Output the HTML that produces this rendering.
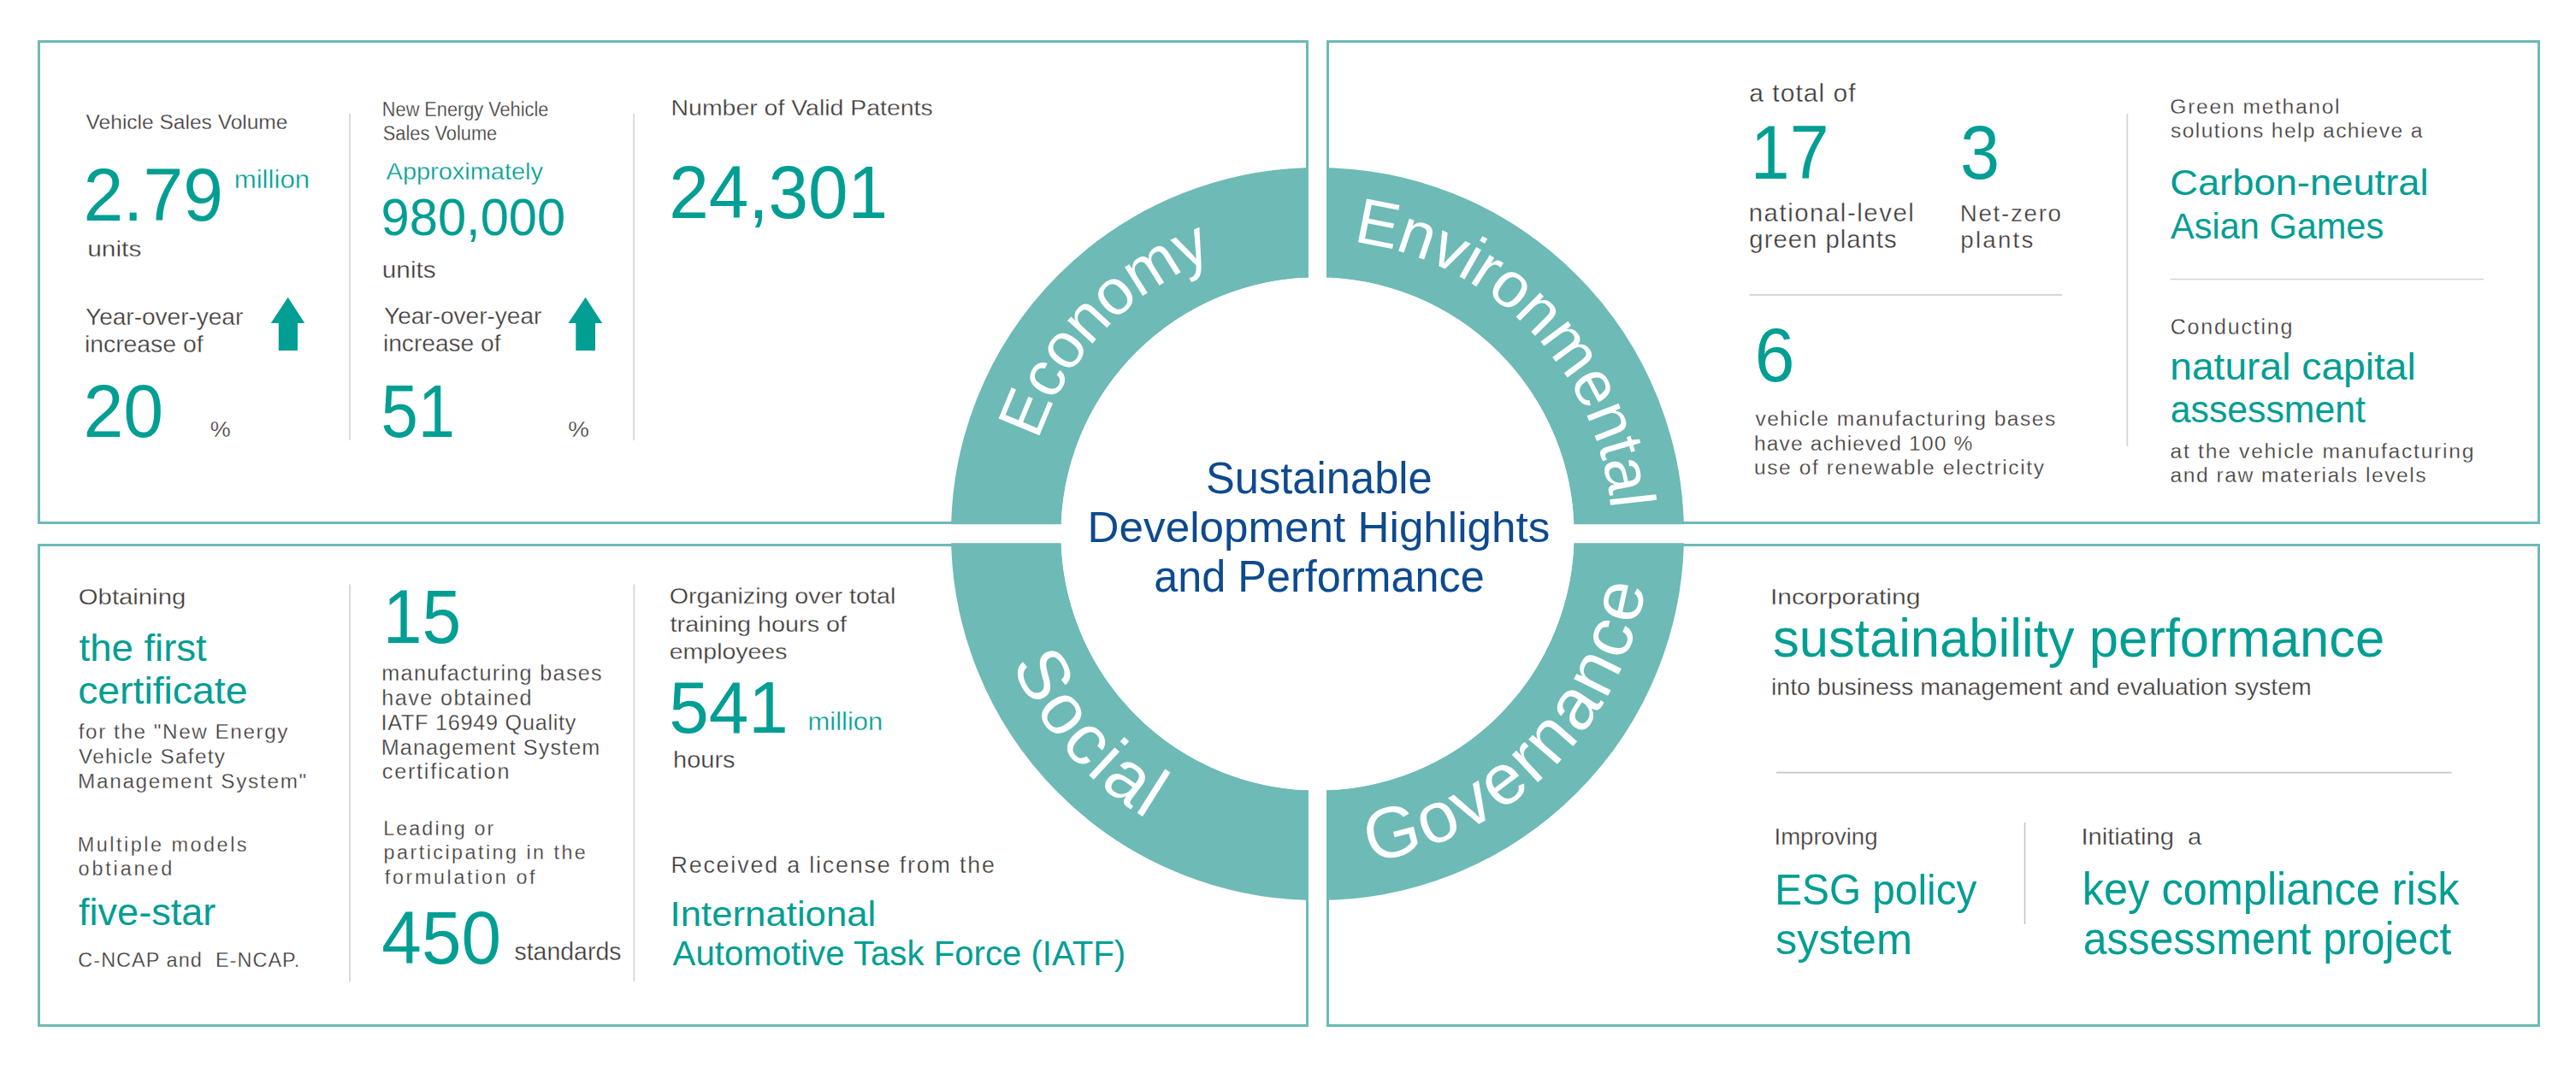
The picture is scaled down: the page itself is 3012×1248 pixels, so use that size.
<!DOCTYPE html>
<html><head><meta charset="utf-8"><style>
html,body{margin:0;padding:0;background:#fff;width:3012px;height:1248px;overflow:hidden}
svg{display:block}
text{font-family:"Liberation Sans", sans-serif;white-space:pre}
</style></head><body>
<svg width="3012" height="1248" viewBox="0 0 3012 1248">
<defs><path id="pE" d="M1302.06 873.15 A344.50 344.50 0 0 1 1778.94 375.85"/>
<path id="pV" d="M1300.50 375.97 A345.50 345.50 0 0 1 1780.50 873.03"/>
<path id="pS" d="M1283.10 331.51 A390.00 390.00 0 0 0 1797.90 917.49"/>
<path id="pG" d="M1266.18 901.71 A390.00 390.00 0 0 0 1814.82 347.29"/></defs>
<rect x="45.5" y="48.5" width="1483.0" height="563.0" fill="none" stroke="#6dbab6" stroke-width="3"/>
<rect x="1552.5" y="48.5" width="1416.0" height="563.0" fill="none" stroke="#6dbab6" stroke-width="3"/>
<rect x="45.5" y="637.5" width="1483.0" height="562.0" fill="none" stroke="#6dbab6" stroke-width="3"/>
<rect x="1552.5" y="637.5" width="1416.0" height="562.0" fill="none" stroke="#6dbab6" stroke-width="3"/>
<rect x="408.10" y="133.0" width="2.00" height="382.0" fill="#dadada"/>
<rect x="740.30" y="133.0" width="1.80" height="382.0" fill="#d6d6d6"/>
<rect x="2486.40" y="133.0" width="1.80" height="389.0" fill="#d6d6d8"/>
<rect x="2045.6" y="343.90" width="365.4" height="2.00" fill="#d6d6d8"/>
<rect x="2537.5" y="325.80" width="366.5" height="1.60" fill="#d6d6d8"/>
<rect x="408.00" y="683.5" width="2.00" height="464.5" fill="#dadada"/>
<rect x="740.50" y="683.5" width="1.80" height="464.5" fill="#d6d6d6"/>
<rect x="2077.0" y="902.75" width="789.5" height="1.70" fill="#c4c4c4"/>
<rect x="2366.75" y="962.0" width="1.50" height="119.0" fill="#c4c4c4"/>
<path d="M336.7 347.8 L356.3 378 L348.0 378 L348.0 410 L325.8 410 L325.8 378 L316.7 378 Z" fill="#009e93"/>
<path d="M684.6 347.8 L704.2 378 L696.0 378 L696.0 410 L673.3 410 L673.3 378 L664.4 378 Z" fill="#009e93"/>
<circle cx="1540.5" cy="624.5" r="364.25" fill="none" stroke="#6dbab6" stroke-width="128.50"/>
<circle cx="1540.5" cy="624.5" r="300.00" fill="#fff"/>
<rect x="1529.9" y="194.0" width="21.1" height="861.0" fill="#fff"/>
<rect x="1110.0" y="613.2" width="861.0" height="22" fill="#fff"/>
<text font-size="75.0" fill="#fff" letter-spacing="-1.20"><textPath href="#pE" startOffset="50%" text-anchor="middle">Economy</textPath></text>
<text font-size="75.0" fill="#fff" letter-spacing="-0.80"><textPath href="#pV" startOffset="50%" text-anchor="middle">Environmental</textPath></text>
<text font-size="84.0" fill="#fff" letter-spacing="3.10"><textPath href="#pS" startOffset="50%" text-anchor="middle">Social</textPath></text>
<text font-size="84.0" fill="#fff" letter-spacing="3.20"><textPath href="#pG" startOffset="50%" text-anchor="middle">Governance</textPath></text>
<text transform="translate(100.60 151.00) scale(1.0537 1)" font-size="23.29" fill="#3e3a39" stroke="#fff" stroke-width="0.28">Vehicle Sales Volume</text>
<text transform="translate(97.40 257.70) scale(0.9607 1)" font-size="87.43" fill="#009e93">2.79</text>
<text transform="translate(273.63 220.00) scale(1.0859 1)" font-size="28.77" fill="#009e93" stroke="#fff" stroke-width="0.35">million</text>
<text transform="translate(102.21 300.00) scale(1.1741 1)" font-size="25.48" fill="#3e3a39" stroke="#fff" stroke-width="0.31">units</text>
<text transform="translate(100.04 379.80) scale(1.0286 1)" font-size="27.25" fill="#3e3a39" stroke="#fff" stroke-width="0.33">Year-over-year</text>
<text transform="translate(98.90 411.80) scale(1.0410 1)" font-size="27.25" fill="#3e3a39" stroke="#fff" stroke-width="0.33">increase of</text>
<text transform="translate(97.39 510.70) scale(0.9630 1)" font-size="87.43" fill="#009e93">20</text>
<text transform="translate(245.79 511.00) scale(1.0495 1)" font-size="25.71" fill="#3e3a39" stroke="#fff" stroke-width="0.31">%</text>
<text transform="translate(446.86 135.50) scale(0.9394 1)" font-size="23.15" fill="#3e3a39" stroke="#fff" stroke-width="0.28">New Energy Vehicle</text>
<text transform="translate(447.73 164.30) scale(0.9435 1)" font-size="23.15" fill="#3e3a39" stroke="#fff" stroke-width="0.28">Sales Volume</text>
<text transform="translate(451.60 210.30) scale(1.0781 1)" font-size="26.85" fill="#009e93" stroke="#fff" stroke-width="0.32">Approximately</text>
<text transform="translate(445.61 275.00) scale(0.9707 1)" font-size="61.43" fill="#009e93">980,000</text>
<text transform="translate(446.81 324.70) scale(1.0498 1)" font-size="28.36" fill="#3e3a39" stroke="#fff" stroke-width="0.34">units</text>
<text transform="translate(449.04 379.40) scale(1.0396 1)" font-size="26.96" fill="#3e3a39" stroke="#fff" stroke-width="0.32">Year-over-year</text>
<text transform="translate(447.91 411.30) scale(1.0445 1)" font-size="26.96" fill="#3e3a39" stroke="#fff" stroke-width="0.32">increase of</text>
<text transform="translate(445.48 510.70) scale(0.8862 1)" font-size="87.97" fill="#009e93">51</text>
<text transform="translate(664.17 511.00) scale(1.0776 1)" font-size="25.71" fill="#3e3a39" stroke="#fff" stroke-width="0.31">%</text>
<text transform="translate(784.52 135.40) scale(1.1169 1)" font-size="25.48" fill="#3e3a39" stroke="#fff" stroke-width="0.31">Number of Valid Patents</text>
<text transform="translate(782.22 255.00) scale(0.9599 1)" font-size="87.14" fill="#009e93">24,301</text>
<text x="2045.30" y="119.40" font-size="30.00" letter-spacing="1.017" fill="#3e3a39" stroke="#fff" stroke-width="0.36">a total of</text>
<text transform="translate(2046.83 209.30) scale(0.9335 1)" font-size="88.29" fill="#009e93">17</text>
<text transform="translate(2291.91 209.30) scale(0.9385 1)" font-size="88.29" fill="#009e93">3</text>
<text x="2044.74" y="258.80" font-size="29.32" letter-spacing="1.565" fill="#3e3a39" stroke="#fff" stroke-width="0.35">national-level</text>
<text x="2045.33" y="290.30" font-size="29.32" letter-spacing="1.000" fill="#3e3a39" stroke="#fff" stroke-width="0.35">green plants</text>
<text x="2291.79" y="258.80" font-size="27.68" letter-spacing="1.725" fill="#3e3a39" stroke="#fff" stroke-width="0.33">Net-zero</text>
<text x="2292.34" y="290.30" font-size="27.68" letter-spacing="2.225" fill="#3e3a39" stroke="#fff" stroke-width="0.33">plants</text>
<text transform="translate(2051.80 445.50) scale(0.9535 1)" font-size="88.14" fill="#009e93">6</text>
<text x="2052.40" y="497.90" font-size="24.52" letter-spacing="1.545" fill="#3e3a39" stroke="#fff" stroke-width="0.29">vehicle manufacturing bases</text>
<text x="2050.93" y="526.60" font-size="24.52" letter-spacing="1.162" fill="#3e3a39" stroke="#fff" stroke-width="0.29">have achieved 100 %</text>
<text x="2050.93" y="555.00" font-size="24.52" letter-spacing="1.604" fill="#3e3a39" stroke="#fff" stroke-width="0.29">use of renewable electricity</text>
<text x="2537.37" y="133.30" font-size="24.66" letter-spacing="1.642" fill="#3e3a39" stroke="#fff" stroke-width="0.30">Green methanol</text>
<text x="2538.11" y="161.40" font-size="24.66" letter-spacing="1.357" fill="#3e3a39" stroke="#fff" stroke-width="0.30">solutions help achieve a</text>
<text transform="translate(2537.13 228.20) scale(1.0476 1)" font-size="43.29" fill="#009e93">Carbon-neutral</text>
<text transform="translate(2538.00 278.60) scale(0.9593 1)" font-size="43.29" fill="#009e93">Asian Games</text>
<text x="2537.75" y="391.20" font-size="25.07" letter-spacing="1.760" fill="#3e3a39" stroke="#fff" stroke-width="0.30">Conducting</text>
<text transform="translate(2537.23 443.60) scale(1.0251 1)" font-size="45.07" fill="#009e93">natural capital</text>
<text transform="translate(2537.79 494.00) scale(0.9487 1)" font-size="45.07" fill="#009e93">assessment</text>
<text x="2537.51" y="536.00" font-size="24.66" letter-spacing="1.721" fill="#3e3a39" stroke="#fff" stroke-width="0.30">at the vehicle manufacturing</text>
<text x="2537.51" y="564.00" font-size="24.66" letter-spacing="1.502" fill="#3e3a39" stroke="#fff" stroke-width="0.30">and raw materials levels</text>
<text transform="translate(91.83 706.70) scale(1.1198 1)" font-size="26.16" fill="#3e3a39" stroke="#fff" stroke-width="0.31">Obtaining</text>
<text transform="translate(92.54 772.80) scale(1.0131 1)" font-size="44.93" fill="#009e93">the first</text>
<text transform="translate(91.15 822.70) scale(1.0315 1)" font-size="44.93" fill="#009e93">certificate</text>
<text x="91.76" y="864.00" font-size="24.25" letter-spacing="1.578" fill="#3e3a39" stroke="#fff" stroke-width="0.29">for the &quot;New Energy</text>
<text x="92.00" y="893.00" font-size="24.25" letter-spacing="1.326" fill="#3e3a39" stroke="#fff" stroke-width="0.29">Vehicle Safety</text>
<text x="91.06" y="922.00" font-size="24.25" letter-spacing="1.728" fill="#3e3a39" stroke="#fff" stroke-width="0.29">Management System&quot;</text>
<text x="90.63" y="995.80" font-size="23.42" letter-spacing="2.524" fill="#3e3a39" stroke="#fff" stroke-width="0.28">Multiple models</text>
<text x="91.56" y="1024.30" font-size="23.42" letter-spacing="2.839" fill="#3e3a39" stroke="#fff" stroke-width="0.28">obtianed</text>
<text transform="translate(92.05 1082.00) scale(0.9968 1)" font-size="45.21" fill="#009e93">five-star</text>
<text x="91.33" y="1130.70" font-size="23.42" letter-spacing="1.063" fill="#3e3a39" stroke="#fff" stroke-width="0.28">C-NCAP and  E-NCAP.</text>
<text transform="translate(447.85 752.40) scale(0.9237 1)" font-size="88.99" fill="#009e93">15</text>
<text x="446.29" y="796.40" font-size="25.21" letter-spacing="1.304" fill="#3e3a39" stroke="#fff" stroke-width="0.30">manufacturing bases</text>
<text x="446.29" y="824.80" font-size="25.21" letter-spacing="1.413" fill="#3e3a39" stroke="#fff" stroke-width="0.30">have obtained</text>
<text x="445.53" y="853.60" font-size="25.21" letter-spacing="0.746" fill="#3e3a39" stroke="#fff" stroke-width="0.30">IATF 16949 Quality</text>
<text x="445.78" y="882.50" font-size="25.21" letter-spacing="1.084" fill="#3e3a39" stroke="#fff" stroke-width="0.30">Management System</text>
<text x="446.79" y="911.40" font-size="25.21" letter-spacing="1.762" fill="#3e3a39" stroke="#fff" stroke-width="0.30">certification</text>
<text x="448.14" y="977.00" font-size="23.29" letter-spacing="2.123" fill="#3e3a39" stroke="#fff" stroke-width="0.28">Leading or</text>
<text x="448.60" y="1005.20" font-size="23.29" letter-spacing="2.486" fill="#3e3a39" stroke="#fff" stroke-width="0.28">participating in the</text>
<text x="449.77" y="1034.00" font-size="23.29" letter-spacing="2.669" fill="#3e3a39" stroke="#fff" stroke-width="0.28">formulation of</text>
<text transform="translate(446.33 1127.00) scale(0.9608 1)" font-size="87.14" fill="#009e93">450</text>
<text transform="translate(601.43 1123.30) scale(0.9765 1)" font-size="29.18" fill="#3e3a39" stroke="#fff" stroke-width="0.35">standards</text>
<text transform="translate(782.75 706.30) scale(1.1019 1)" font-size="26.03" fill="#3e3a39" stroke="#fff" stroke-width="0.31">Organizing over total</text>
<text transform="translate(783.61 739.20) scale(1.1071 1)" font-size="26.03" fill="#3e3a39" stroke="#fff" stroke-width="0.31">training hours of</text>
<text transform="translate(782.76 770.90) scale(1.0940 1)" font-size="26.03" fill="#3e3a39" stroke="#fff" stroke-width="0.31">employees</text>
<text transform="translate(782.25 857.40) scale(0.9811 1)" font-size="85.29" fill="#009e93">541</text>
<text transform="translate(944.54 853.80) scale(1.0268 1)" font-size="30.14" fill="#009e93" stroke="#fff" stroke-width="0.36">million</text>
<text transform="translate(787.06 897.60) scale(1.0272 1)" font-size="28.22" fill="#3e3a39" stroke="#fff" stroke-width="0.34">hours</text>
<text x="784.45" y="1021.00" font-size="26.85" letter-spacing="1.816" fill="#3e3a39" stroke="#fff" stroke-width="0.32">Received a license from the</text>
<text transform="translate(783.56 1082.50) scale(1.0644 1)" font-size="41.10" fill="#009e93">International</text>
<text transform="translate(786.60 1128.60) scale(0.9775 1)" font-size="41.10" fill="#009e93">Automotive Task Force (IATF)</text>
<text transform="translate(2069.99 707.00) scale(1.1675 1)" font-size="25.75" fill="#3e3a39" stroke="#fff" stroke-width="0.31">Incorporating</text>
<text transform="translate(2072.97 768.40) scale(0.9906 1)" font-size="62.19" fill="#009e93">sustainability performance</text>
<text transform="translate(2070.99 813.00) scale(1.0193 1)" font-size="27.95" fill="#3e3a39" stroke="#fff" stroke-width="0.34">into business management and evaluation system</text>
<text transform="translate(2074.52 987.60) scale(0.9768 1)" font-size="28.22" fill="#3e3a39" stroke="#fff" stroke-width="0.34">Improving</text>
<text transform="translate(2075.18 1057.70) scale(0.9711 1)" font-size="49.18" fill="#009e93">ESG policy</text>
<text transform="translate(2075.99 1115.70) scale(1.0273 1)" font-size="49.18" fill="#009e93">system</text>
<text transform="translate(2433.38 987.60) scale(1.0325 1)" font-size="28.22" fill="#3e3a39" stroke="#fff" stroke-width="0.34">Initiating  a</text>
<text transform="translate(2434.77 1057.70) scale(0.9383 1)" font-size="53.84" fill="#009e93">key compliance risk</text>
<text transform="translate(2435.80 1115.70) scale(0.9284 1)" font-size="53.84" fill="#009e93">assessment project</text>
<text transform="translate(1409.97 577.00) scale(0.9736 1)" font-size="52.05" fill="#0d4a8f">Sustainable</text>
<text transform="translate(1271.60 633.50) scale(1.0106 1)" font-size="50.68" fill="#0d4a8f">Development Highlights</text>
<text transform="translate(1349.28 691.70) scale(0.9757 1)" font-size="51.64" fill="#0d4a8f">and Performance</text>
</svg>
</body></html>
